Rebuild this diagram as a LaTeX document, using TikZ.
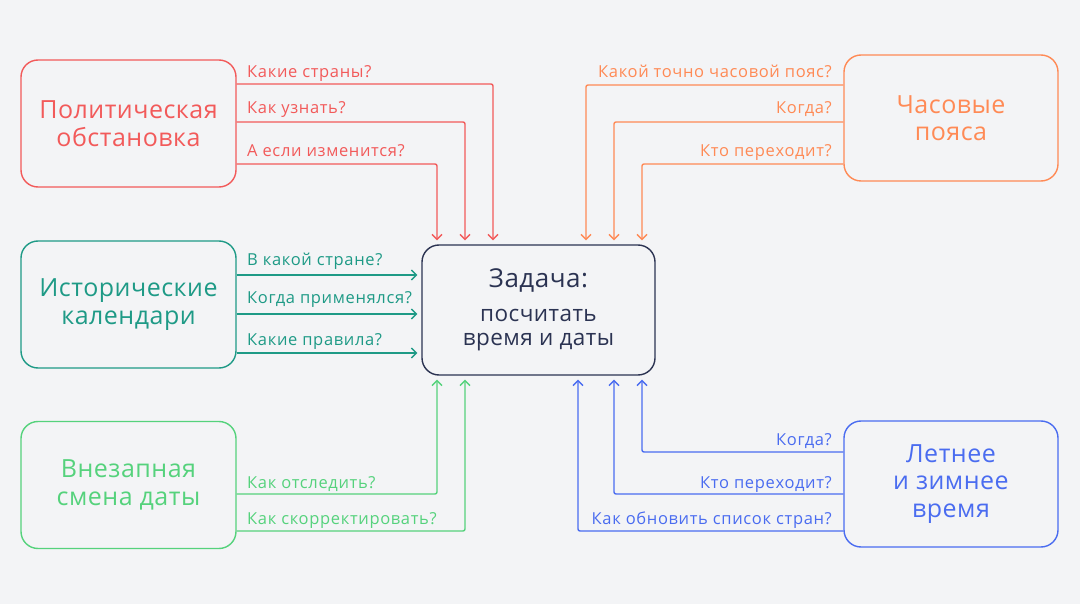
\documentclass[tikz,border=0pt]{standalone}
\usepackage{fontspec}
\setmainfont{Open Sans}
\newfontfamily\lblfont[LetterSpace=4]{Open Sans}
\newfontfamily\boxfont[LetterSpace=2]{Open Sans}
\usetikzlibrary{arrows.meta}
\definecolor{bgc}{HTML}{F3F4F6}
\definecolor{redc}{HTML}{F25A5A}
\definecolor{orc}{HTML}{FF8A55}
\definecolor{tealc}{HTML}{1E9A86}
\definecolor{greenc}{HTML}{55D27C}
\definecolor{bluec}{HTML}{4A6CF0}
\definecolor{navyc}{HTML}{2B3352}
\begin{document}
\begin{tikzpicture}[x=1pt,y=-1pt,
  box/.style={draw, rounded corners=17pt, line width=1.4pt, minimum width=215pt, minimum height=127pt,
    align=center, inner sep=0pt, font=\boxfont\fontsize{25}{27.5}\selectfont},
  lbl/.style={inner sep=0pt, font=\lblfont\fontsize{16.5}{18}\selectfont},
  conn/.style={line width=1.4pt, rounded corners=2pt, -{Straight Barb[length=5pt,width=10pt]}, shorten >=4pt}
]
\fill[bgc] (0,0) rectangle (1080,604);
\useasboundingbox (0,0) rectangle (1080,604);

% boxes
\node[box, draw=redc, text=redc] (pol) at (128.5,123.5) {Политическая\\обстановка};
\node[box, draw=tealc, text=tealc] (hist) at (128.5,304.5) {Исторические\\календари};
\node[box, draw=greenc, text=greenc] (jump) at (128.5,485) {Внезапная\\смена даты};
\node[box, draw=orc, text=orc, minimum width=214pt, minimum height=126pt] (tz) at (951,118) {Часовые\\пояса};
\node[box, draw=bluec, text=bluec, minimum width=214pt, minimum height=126pt] (dst) at (951,484) {Летнее\\и зимнее\\время};
\node[box, draw=navyc, text=navyc, minimum width=233pt, minimum height=130pt, font=\boxfont\fontsize{22.5}{24.5}\selectfont] (task) at (538.5,310)
  {{\fontsize{26}{30}\selectfont Задача:}\\[9pt]посчитать\\время и даты};

% coordinates for connector routes
\coordinate (r1) at (493,84);
\coordinate (r2) at (465,122);
\coordinate (r3) at (437,164);
\coordinate (o1) at (586,85);
\coordinate (o2) at (614,122);
\coordinate (o3) at (642,164);
\coordinate (t1) at (300,275);
\coordinate (t2) at (300,314);
\coordinate (t3) at (300,353);
\coordinate (g1) at (437,494);
\coordinate (g2) at (465,531);
\coordinate (b1) at (642,452);
\coordinate (b2) at (614,494);
\coordinate (b3) at (578,531);

% red
\draw[conn, redc] (pol.east |- r1) -| (task.north -| r1);
\draw[conn, redc] (pol.east |- r2) -| (task.north -| r2);
\draw[conn, redc] (pol.east |- r3) -| (task.north -| r3);
\node[lbl, text=redc, anchor=base west] (lr1) at (247,78) {Какие страны?};
\node[lbl, text=redc, anchor=base west] (lr2) at (247,114) {Как узнать?};
\node[lbl, text=redc, anchor=base west] (lr3) at (247,157) {А если изменится?};

% orange
\draw[conn, orc] (tz.west |- o1) -| (task.north -| o1);
\draw[conn, orc] (tz.west |- o2) -| (task.north -| o2);
\draw[conn, orc] (tz.west |- o3) -| (task.north -| o3);
\node[lbl, text=orc, anchor=base east] (lo1) at (832,78) {Какой точно часовой пояс?};
\node[lbl, text=orc, anchor=base east] (lo2) at (832,114) {Когда?};
\node[lbl, text=orc, anchor=base east] (lo3) at (832,157) {Кто переходит?};

% teal
\draw[conn, tealc] (hist.east |- t1) -- (task.west |- t1);
\draw[conn, tealc] (hist.east |- t2) -- (task.west |- t2);
\draw[conn, tealc] (hist.east |- t3) -- (task.west |- t3);
\node[lbl, text=tealc, anchor=base west] (lt1) at (247,266) {В какой стране?};
\node[lbl, text=tealc, anchor=base west] (lt2) at (247,304) {Когда применялся?};
\node[lbl, text=tealc, anchor=base west] (lt3) at (247,345) {Какие правила?};

% green
\draw[conn, greenc] (jump.east |- g1) -| (task.south -| g1);
\draw[conn, greenc] (jump.east |- g2) -| (task.south -| g2);
\node[lbl, text=greenc, anchor=base west] (lg1) at (247,488) {Как отследить?};
\node[lbl, text=greenc, anchor=base west] (lg2) at (247,524) {Как скорректировать?};

% blue
\draw[conn, bluec] (dst.west |- b1) -| (task.south -| b1);
\draw[conn, bluec] (dst.west |- b2) -| (task.south -| b2);
\draw[conn, bluec] (dst.west |- b3) -| (task.south -| b3);
\node[lbl, text=bluec, anchor=base east] (lb1) at (832,445) {Когда?};
\node[lbl, text=bluec, anchor=base east] (lb2) at (832,488) {Кто переходит?};
\node[lbl, text=bluec, anchor=base east] (lb3) at (832,524) {Как обновить список стран?};
\end{tikzpicture}
\end{document}
